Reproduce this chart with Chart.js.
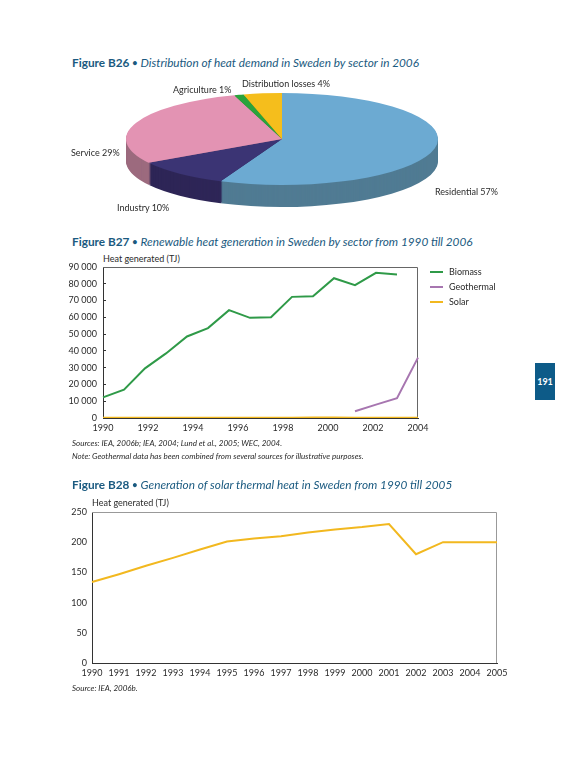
<!DOCTYPE html>
<html>
<head>
<meta charset="utf-8">
<script src="https://cdn.jsdelivr.net/npm/chart.js@4.4.0/dist/chart.umd.min.js"></script>
<style>
html, body { margin: 0; padding: 0; background: #fff; }
body { width: 567px; height: 765px; position: relative; overflow: hidden; font-family: Lato, "Liberation Sans", sans-serif; color: #2a2a2a; }
.abs { position: absolute; white-space: nowrap; }
.title { font-size: 11.8px; line-height: 14px; color: #1a5a80; }
.title b { font-weight: bold; }
.title i { font-style: italic; }
.title .dot { font-size: 9px; vertical-align: 1px; }
.lbl { font-size: 9px; line-height: 11px; }
.src { font-size: 8px; line-height: 10px; font-style: italic; }
.box { position: absolute; }
.tab { position: absolute; left: 535px; top: 363px; width: 20px; height: 37px; background: #0d5b88; color: #fff; font-size: 9px; font-weight: bold; text-align: center; line-height: 37px; }
.leg { position: absolute; left: 430px; font-size: 9px; line-height: 11px; }
.leg span.sw { position: absolute; left: 0; top: 5px; width: 13px; height: 2px; }
.leg span.tx { position: absolute; left: 19px; top: 0; white-space: nowrap; }
</style>
</head>
<body>

<div class="abs title" style="left:72px; top:56px;"><b>Figure B26 <span class="dot">&bull;</span></b> <i>Distribution of heat demand in Sweden by sector in 2006</i></div>
<div class="box" style="left:60px; top:75px; width:460px; height:145px;"><canvas id="pie"></canvas></div>
<div id="pieLabels"></div>

<div class="abs title" style="left:72px; top:235px;"><b>Figure B27 <span class="dot">&bull;</span></b> <i>Renewable heat generation in Sweden by sector from 1990 till 2006</i></div>
<div class="abs lbl" style="left:103px; top:253px;">Heat generated (TJ)</div>
<div class="box" style="left:50px; top:250px; width:390px; height:190px;"><canvas id="c27"></canvas></div>
<div id="legend27"></div>
<div class="abs src" style="left:72px; top:438px;">Sources: IEA, 2006b; IEA, 2004; Lund et al., 2005; WEC, 2004.</div>
<div class="abs src" style="left:72px; top:451px;">Note: Geothermal data has been combined from several sources for illustrative purposes.</div>

<div class="tab">191</div>

<div class="abs title" style="left:72px; top:478px;"><b>Figure B28 <span class="dot">&bull;</span></b> <i>Generation of solar thermal heat in Sweden from 1990 till 2005</i></div>
<div class="abs lbl" style="left:92px; top:497px;">Heat generated (TJ)</div>
<div class="box" style="left:40px; top:495px; width:475px; height:190px;"><canvas id="c28"></canvas></div>
<div class="abs src" style="left:72px; top:683px;">Source: IEA, 2006b.</div>

<script>
// figure B26
const sectors = ['Residential', 'Industry', 'Service', 'Agriculture', 'Distribution losses'];
const sectorShares = [57, 10, 29, 1, 4];
const sectorTop = ['#6caad2', '#3b3474', '#e393b3', '#2aa33c', '#f5be1c'];
const sectorSide = ['#507b93', '#2e2657', '#9c6a7e', '#1f7a2c', '#b98e15'];
const sectorLabelPos = [[435, 186], [117, 202], [71, 147], [173, 84], [242, 78]];

// figure B27 (16 yearly points, axis labelled every second year)
const years = ['1990', '1991', '1992', '1993', '1994', '1995', '1996', '1997',
               '1998', '1999', '2000', '2001', '2002', '2003', '2004', '2005'];
const yearTicks = [1990, 1992, 1994, 1996, 1998, 2000, 2002, 2004];
const biomass = [12300, 16900, 29600, 38500, 48600, 53600, 64300, 59700,
                 60100, 72200, 72600, 83300, 79200, 86500, 85500, null];
const geothermal = [null, null, null, null, null, null, null, null,
                    null, null, null, null, 4000, 8000, 11800, 36000];

// figure B28
const solar = [134, 147, 161, 174, 188, 201, 206, 210, 216, 221, 225, 230, 180, 200, 200, 200];

const font = { family: 'Lato, "Liberation Sans", sans-serif', size: 9 };
const txt = '#2a2a2a';
const spaced = v => String(v).replace(/\B(?=(\d{3})+(?!\d))/g, ' ');

// labels around the pie
const pl = document.getElementById('pieLabels');
sectors.forEach((s, i) => {
    const d = document.createElement('div');
    d.className = 'abs lbl';
    d.style.left = sectorLabelPos[i][0] + 'px';
    d.style.top = sectorLabelPos[i][1] + 'px';
    d.textContent = s + ' ' + sectorShares[i] + '%';
    pl.appendChild(d);
});

// squashes the pie into an ellipse and stacks darker copies under it for depth
const pie3d = {
    id: 'pie3d',
    beforeDatasetsDraw(chart) {
        const ctx = chart.ctx;
        const arcs = chart.getDatasetMeta(0).data;
        const r = arcs[0].outerRadius, cx = arcs[0].x, cy = arcs[0].y;
        const sx = 156 / r, sy = 46 / r, depth = 22;
        const paint = (dy, colors) => {
            ctx.save();
            ctx.translate(222, 64 + dy);
            ctx.scale(sx, sy);
            ctx.translate(-cx, -cy);
            arcs.forEach((arc, i) => {
                const o = arc.options;
                arc.options = Object.assign({}, o, { backgroundColor: colors[i], borderWidth: 0 });
                arc.draw(ctx);
                arc.options = o;
            });
            ctx.restore();
        };
        for (let d = depth; d > 0; d--) paint(d, sectorSide);
        paint(0, sectorTop);
        return false;
    }
};

new Chart('pie', {
    type: 'pie',
    data: { labels: sectors, datasets: [{ data: sectorShares, backgroundColor: sectorTop, borderWidth: 0 }] },
    options: {
        animation: false, events: [], responsive: true, maintainAspectRatio: false,
        plugins: { legend: { display: false }, tooltip: { enabled: false } }
    },
    plugins: [pie3d]
});

// top and right edge of the plot box
const frame = {
    id: 'frame',
    beforeDatasetsDraw(chart, args, opts) {
        const { ctx, chartArea: a } = chart;
        ctx.save();
        ctx.strokeStyle = opts.color;
        ctx.lineWidth = 1;
        ctx.beginPath();
        ctx.moveTo(a.left, Math.round(a.top) + 0.5);
        ctx.lineTo(Math.round(a.right) - 0.5, Math.round(a.top) + 0.5);
        ctx.lineTo(Math.round(a.right) - 0.5, a.bottom);
        ctx.stroke();
        ctx.restore();
    }
};

const c27 = new Chart('c27', {
    type: 'line',
    data: {
        labels: years,
        datasets: [
            { label: 'Biomass', data: biomass, borderColor: '#2f9a48' },
            { label: 'Geothermal', data: geothermal, borderColor: '#a776b0' },
            { label: 'Solar', data: solar, borderColor: '#f2b81f' }
        ]
    },
    options: {
        animation: false, events: [], responsive: true, maintainAspectRatio: false,
        layout: { padding: { top: 17, right: 22, left: 0, bottom: 0 } },
        elements: { point: { radius: 0 }, line: { borderWidth: 2, tension: 0 } },
        plugins: { legend: { display: false }, tooltip: { enabled: false }, frame: { color: '#666' } },
        scales: {
            x: { display: false, offset: false },
            xt: {
                type: 'linear', position: 'bottom', min: 1990, max: 2004,
                afterBuildTicks: s => { s.ticks = yearTicks.map(v => ({ value: v })); },
                grid: { display: false, drawTicks: false },
                border: { color: '#333' },
                ticks: { font, color: txt, padding: 5, maxRotation: 0, callback: v => String(v) },
                afterFit: s => { s.height = 22; }
            },
            y: {
                min: 0, max: 90000,
                ticks: { stepSize: 10000, font, color: txt, padding: 9, callback: spaced },
                grid: { drawOnChartArea: false, tickLength: -3, color: '#333' },
                border: { color: '#333' },
                afterFit: s => { s.width = 53; }
            }
        }
    },
    plugins: [frame]
});

// legend built from the datasets
const lg = document.getElementById('legend27');
c27.data.datasets.forEach((ds, i) => {
    const d = document.createElement('div');
    d.className = 'leg';
    d.style.top = (266 + i * 15) + 'px';
    d.innerHTML = '<span class="sw" style="background:' + ds.borderColor + '"></span><span class="tx">' + ds.label + '</span>';
    lg.appendChild(d);
});

new Chart('c28', {
    type: 'line',
    data: { labels: years, datasets: [{ label: 'Solar', data: solar, borderColor: '#f2b81f' }] },
    options: {
        animation: false, events: [], responsive: true, maintainAspectRatio: false,
        layout: { padding: { top: 17, right: 18, left: 0, bottom: 0 } },
        elements: { point: { radius: 0 }, line: { borderWidth: 2, tension: 0 } },
        plugins: { legend: { display: false }, tooltip: { enabled: false }, frame: { color: '#999' } },
        scales: {
            x: {
                offset: false,
                grid: { display: false, drawTicks: false },
                border: { color: '#333' },
                ticks: { font, color: txt, padding: 5, maxRotation: 0, autoSkip: false },
                afterFit: s => { s.height = 22; }
            },
            y: {
                min: 0, max: 250,
                ticks: { stepSize: 50, font, color: txt, padding: 5 },
                grid: { display: false, drawTicks: false },
                border: { color: '#333' },
                afterFit: s => { s.width = 52; }
            }
        }
    },
    plugins: [frame]
});
</script>
</body>
</html>
